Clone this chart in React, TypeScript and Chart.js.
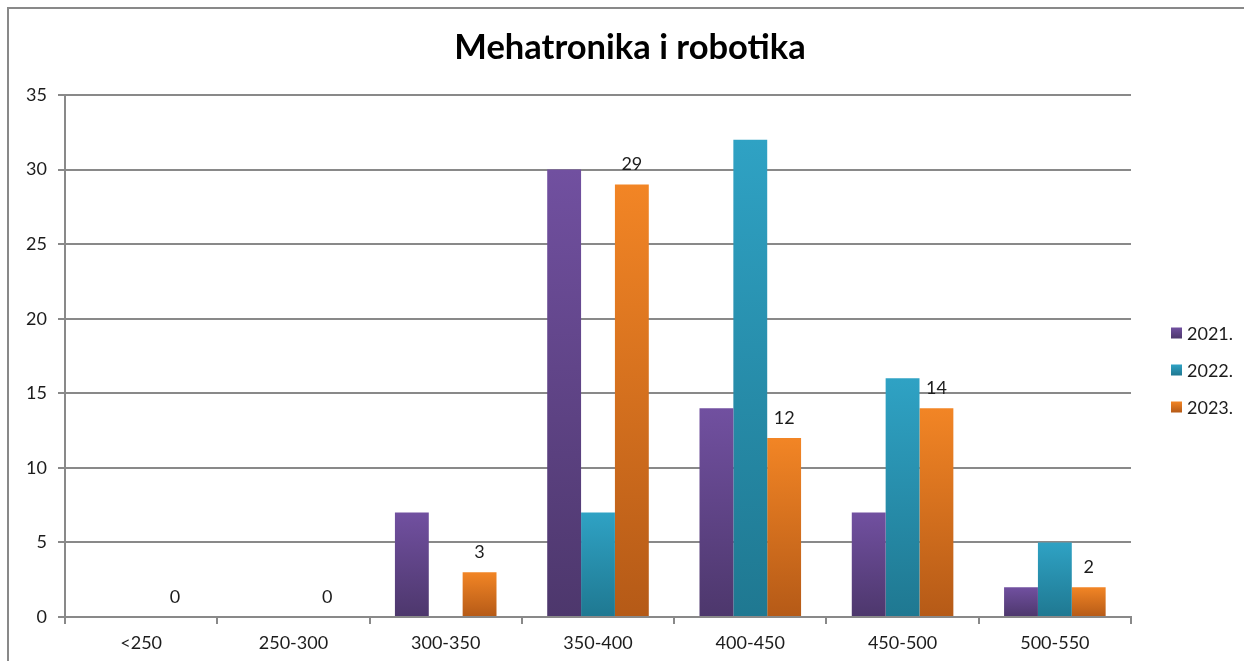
import React, { useEffect, useRef } from "react";
import { Chart, registerables } from "chart.js";

Chart.register(...registerables);

const chartTitle = "Mehatronika i robotika";
const categories = ["<250", "250-300", "300-350", "350-400", "400-450", "450-500", "500-550"];
const seriesNames = ["2021.", "2022.", "2023."];
const values2021 = [0, 0, 7, 30, 14, 7, 2];
const values2022 = [0, 0, 0, 7, 32, 16, 5];
const values2023 = [0, 0, 3, 29, 12, 14, 2];
const yTicks = [0, 5, 10, 15, 20, 25, 30, 35];

const FONT = "Lato, 'Open Sans', sans-serif";
const LINE = "#898989";
const TEXT = "#1c1c1c";
const SMALL = 18;

const palette = [
  { top: "#7150a0", bottom: "#4d376c" },
  { top: "#2fa2c4", bottom: "#1f7891" },
  { top: "#f28525", bottom: "#b55a17" },
];

function barGradient(i: number) {
  return (ctx: any) => {
    const chart = ctx.chart;
    const { chartArea, scales } = chart;
    const c = palette[i];
    if (!chartArea || !scales?.y || ctx.type !== "data") return c.top;
    const v = ctx.parsed?.y ?? 0;
    const y0 = scales.y.getPixelForValue(0);
    const y1 = scales.y.getPixelForValue(v);
    if (!isFinite(y0) || !isFinite(y1) || Math.abs(y0 - y1) < 0.5) return c.top;
    const g = chart.ctx.createLinearGradient(0, y1, 0, y0);
    g.addColorStop(0, c.top);
    g.addColorStop(1, c.bottom);
    return g;
  };
}

const decorPlugin = {
  id: "decor",
  beforeDraw(chart: any) {
    const ctx = chart.ctx;
    ctx.save();
    ctx.fillStyle = "#ffffff";
    ctx.fillRect(0, 0, chart.width, chart.height);
    ctx.strokeStyle = LINE;
    ctx.lineWidth = 2;
    ctx.beginPath();
    ctx.moveTo(8, chart.height);
    ctx.lineTo(8, 8);
    ctx.lineTo(chart.width, 8);
    ctx.stroke();
    ctx.restore();
  },
  afterDraw(chart: any) {
    const ctx = chart.ctx;
    ctx.save();
    // title
    ctx.fillStyle = "#000000";
    ctx.font = `bold 34.5px ${FONT}`;
    ctx.textAlign = "center";
    ctx.textBaseline = "middle";
    ctx.fillText(chartTitle, 630, 48);

    // data labels for the last series
    const di = 2;
    const meta = chart.getDatasetMeta(di);
    ctx.font = `${SMALL}px ${FONT}`;
    ctx.fillStyle = TEXT;
    meta.data.forEach((bar: any, idx: number) => {
      const v = chart.data.datasets[di].data[idx];
      ctx.fillText(String(v), bar.x, bar.y - 20);
    });

    // legend
    ctx.textAlign = "left";
    ctx.font = `${SMALL}px ${FONT}`;
    chart.data.datasets.forEach((ds: any, i: number) => {
      const cy = 333 + i * 37;
      const c = palette[i];
      const g = ctx.createLinearGradient(0, cy - 5.5, 0, cy + 5.5);
      g.addColorStop(0, c.top);
      g.addColorStop(1, c.bottom);
      ctx.fillStyle = g;
      ctx.fillRect(1171, cy - 5.5, 11, 11);
      ctx.fillStyle = TEXT;
      ctx.fillText(ds.label, 1187, cy + 1);
    });
    ctx.restore();
  },
};

export default function App() {
  const ref = useRef<HTMLCanvasElement>(null);
  useEffect(() => {
    if (!ref.current) return;
    const chart = new Chart(ref.current, {
      type: "bar",
      data: {
        labels: categories,
        datasets: [
          { label: seriesNames[0], data: values2021, backgroundColor: barGradient(0) },
          { label: seriesNames[1], data: values2022, backgroundColor: barGradient(1) },
          { label: seriesNames[2], data: values2023, backgroundColor: barGradient(2) },
        ],
      },
      options: {
        responsive: false,
        animation: false,
        devicePixelRatio: 1,
        layout: { padding: { top: 95, right: 113, left: 0, bottom: 0 } },
        datasets: {
          bar: { categoryPercentage: 0.667, barPercentage: 1, borderWidth: 0 },
        },
        plugins: {
          legend: { display: false },
          title: { display: false },
          tooltip: { enabled: false },
        },
        scales: {
          x: {
            afterFit: (s: any) => {
              s.height = 44;
            },
            grid: {
              offset: true,
              drawOnChartArea: false,
              drawTicks: true,
              tickLength: 7,
              color: LINE,
              lineWidth: 2,
            },
            border: { display: true, color: LINE, width: 2 },
            ticks: {
              padding: 8,
              color: TEXT,
              font: { family: FONT, size: SMALL },
              maxRotation: 0,
            },
          },
          y: {
            min: 0,
            max: 35,
            afterFit: (s: any) => {
              s.width = 65;
            },
            afterBuildTicks: (s: any) => {
              s.ticks = yTicks.map((v) => ({ value: v }));
            },
            grid: {
              color: LINE,
              lineWidth: 2,
              drawTicks: true,
              tickLength: 7,
            },
            border: { display: true, color: LINE, width: 2 },
            ticks: {
              padding: 11,
              color: TEXT,
              font: { family: FONT, size: SMALL },
            },
          },
        },
      },
      plugins: [decorPlugin],
    });
    return () => chart.destroy();
  }, []);
  return (
    <canvas
      ref={ref}
      width={1244}
      height={661}
      style={{ position: "absolute", left: 0, top: 0, width: 1244, height: 661 }}
    />
  );
}
